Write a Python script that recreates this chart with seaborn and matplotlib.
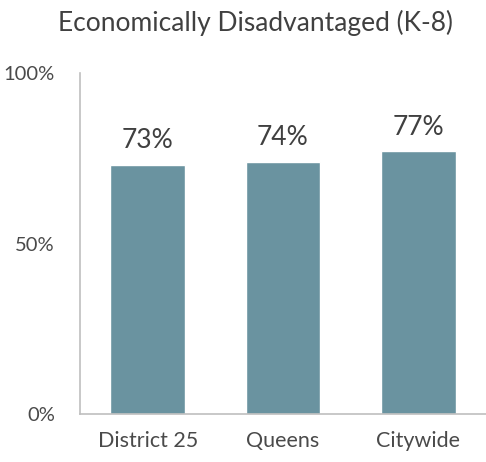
import matplotlib
matplotlib.use("Agg")
import matplotlib.pyplot as plt
import pandas as pd
import seaborn as sns

categories = ["District 25", "Queens", "Citywide"]
values = [73, 74, 77]

df = pd.DataFrame({"area": categories, "pct": values})

sns.set_style("white")
plt.rcParams["font.family"] = ["Lato", "DejaVu Sans"]

fig = plt.figure(figsize=(4.86, 4.62), dpi=100)
ax = fig.add_axes([0.1646, 0.1039, 0.8354, 0.738])

sns.barplot(data=df, x="area", y="pct", color="#6a93a0", saturation=1,
            width=0.55, ax=ax)

ax.set_ylim(0, 100)
ax.set_xlim(-0.5, 2.5)
ax.set_yticks([0, 50, 100])
ax.set_yticklabels(["0%", "50%", "100%"])
ax.set_xlabel("")
ax.set_ylabel("")
ax.tick_params(axis="both", length=0, labelcolor="#4a4a4a")
ax.tick_params(axis="x", pad=12, labelsize=15.5)
ax.tick_params(axis="y", pad=18, labelsize=14.5)

for s in ["top", "right"]:
    ax.spines[s].set_visible(False)
for s in ["left", "bottom"]:
    ax.spines[s].set_color("#bfbfbf")
    ax.spines[s].set_linewidth(1.2)

for i, v in enumerate(values):
    ax.text(i, v + 3.5, f"{v}%", ha="center", va="bottom", fontsize=19,
            color="#404040")

fig.text(0.525, 0.95, "Economically Disadvantaged (K-8)", ha="center",
         va="center", fontsize=19, color="#404040")

fig.savefig("out.png", dpi=100)
